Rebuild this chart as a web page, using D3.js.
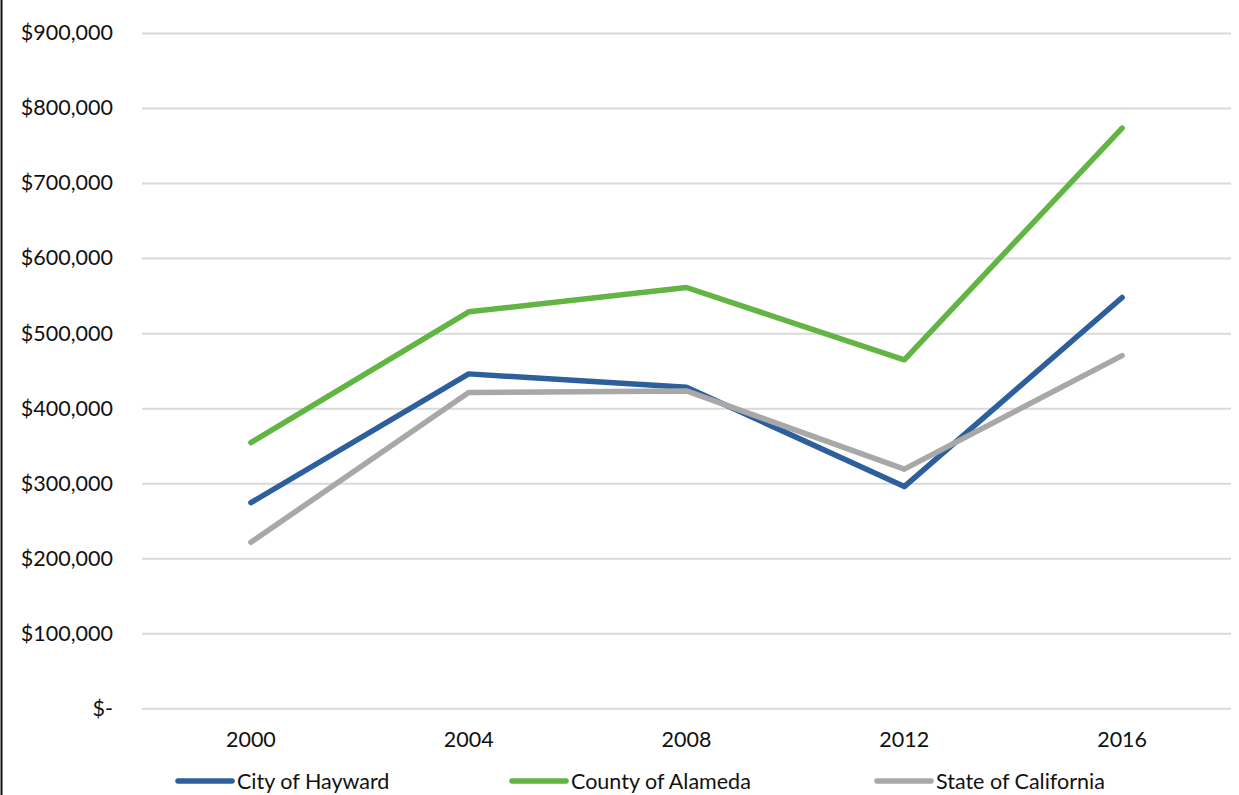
<!DOCTYPE html>
<html><head><meta charset="utf-8">
<script src="https://cdnjs.cloudflare.com/ajax/libs/d3/7.8.5/d3.min.js"></script>
<style>body{margin:0;background:#fff}svg{display:block}</style>
</head><body>
<script>
const years = ["2000","2004","2008","2012","2016"];
const seriesNames = ["City of Hayward","County of Alameda","State of California"];
const hayward = [274000, 445700, 428000, 295500, 547500];
const alameda = [354100, 528400, 560800, 464400, 773300];
const california = [221300, 420800, 423000, 318700, 470100];
const yTicks = [0,100000,200000,300000,400000,500000,600000,700000,800000,900000];
const colors = ["#2C5F9B","#62B543","#A8A8A8"];

const W=1239,H=795;
const svg=d3.select("body").append("svg").attr("width",W).attr("height",H);
const font="Lato, 'Open Sans', sans-serif";
const x=d3.scaleBand().domain(years).range([142,1231]);
const y=d3.scaleLinear().domain([0,900000]).range([708.3,33]);

svg.append("line").attr("x1",1.5).attr("x2",1.5).attr("y1",0).attr("y2",H).attr("stroke","#111").attr("stroke-width",2);

const fmt=v=> v===0 ? "$-" : "$"+d3.format(",")(v);
const gy=svg.append("g").attr("transform","translate(142,0)")
  .call(d3.axisLeft(y).tickValues(yTicks).tickSize(-(1231-142)).tickFormat(fmt).tickPadding(29));
gy.select(".domain").remove();
gy.selectAll(".tick line").attr("stroke","#D9D9D9").attr("stroke-width",2);
gy.selectAll(".tick text").attr("font-family",font).attr("font-size",21.5).attr("fill","#111");

const gx=svg.append("g").attr("transform","translate(0,708.3)")
  .call(d3.axisBottom(x).tickSize(0).tickPadding(23));
gx.select(".domain").remove();
gx.selectAll(".tick text").attr("font-family",font).attr("font-size",21.5).attr("fill","#111");

const data=[hayward,alameda,california];
const line=d3.line().x((d,i)=>x(years[i])+x.bandwidth()/2).y(d=>y(d));
data.forEach((s,k)=>{
  svg.append("path").datum(s).attr("d",line).attr("fill","none")
    .attr("stroke",colors[k]).attr("stroke-width",5.5)
    .attr("stroke-linecap","round").attr("stroke-linejoin","round");
});

const legX=[178,512,877];
seriesNames.forEach((n,k)=>{
  const g=svg.append("g").attr("transform",`translate(${legX[k]},781)`);
  g.append("line").attr("x1",0).attr("x2",54).attr("stroke",colors[k]).attr("stroke-width",5.5).attr("stroke-linecap","round");
  g.append("text").attr("x",59).attr("y",0).attr("dy","0.35em").attr("font-family",font).attr("font-size",21.5).attr("fill","#111").text(n);
});
</script>
</body></html>
